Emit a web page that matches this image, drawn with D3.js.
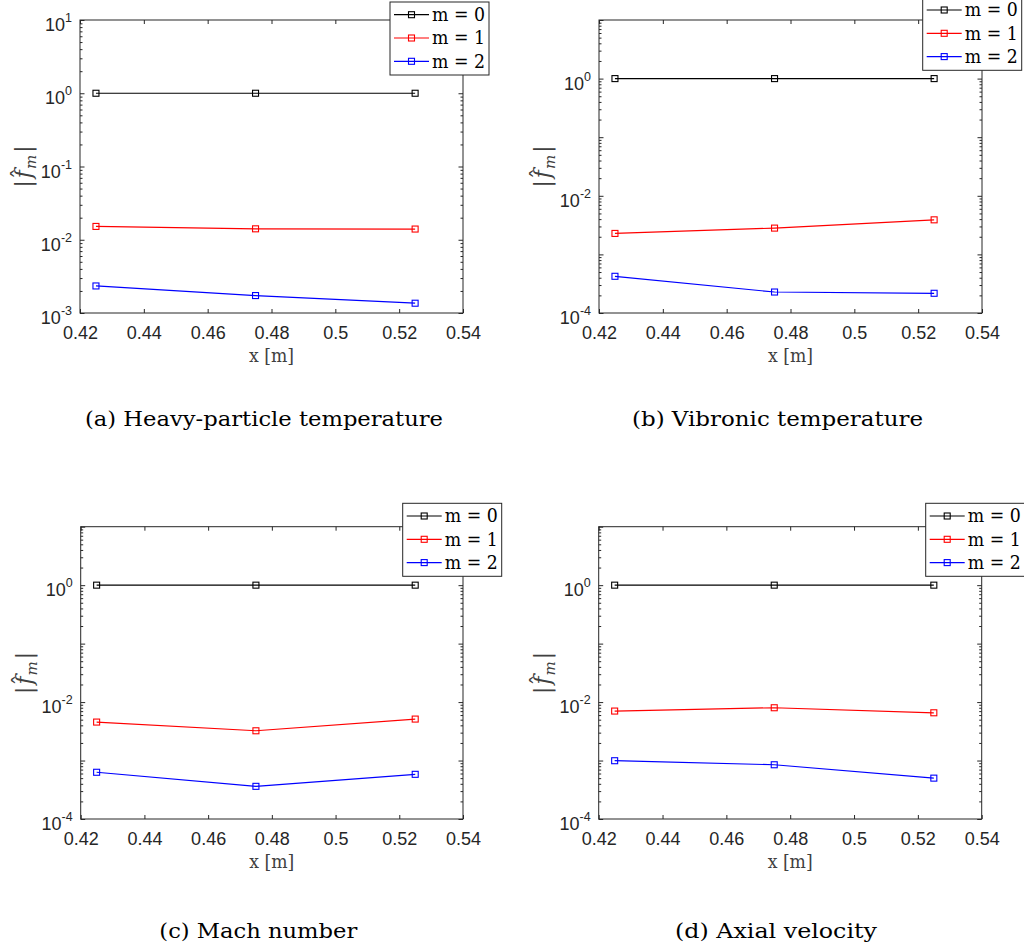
<!DOCTYPE html>
<html>
<head>
<meta charset="utf-8">
<script src="https://cdn.jsdelivr.net/npm/d3@7"></script>
<style>
  body { margin: 0; background: #fff; }
  svg { display: block; }
</style>
</head>
<body>
<svg id="chart" width="1024" height="952"></svg>
<script>
// sample positions along the axis [m]
const xValues = [0.425, 0.475, 0.525];
const xTicks = [0.42, 0.44, 0.46, 0.48, 0.5, 0.52, 0.54];

const seriesNames = ['m = 0', 'm = 1', 'm = 2'];
const seriesColors = ['#000000', '#ff0000', '#0000ff'];

// |f_m| per mode (m = 0, 1, 2)
const heavyParticle = [
  [1, 1, 1],
  [0.0152, 0.0141, 0.0140],
  [0.00234, 0.00173, 0.00136],
];
const vibronic = [
  [1, 1, 1],
  [0.00228, 0.00281, 0.00389],
  [0.000423, 0.000228, 0.000217],
];
const machNumber = [
  [1, 1, 1],
  [0.00455, 0.00323, 0.00512],
  [0.00063, 0.000362, 0.000581],
];
const axialVelocity = [
  [1, 1, 1],
  [0.00702, 0.0080, 0.00656],
  [0.000993, 0.000847, 0.0005],
];

const yExponentsA = [1, 0, -1, -2, -3];
const yExponentsB = [0, -2, -4];

const captions = [
  '(a) Heavy-particle temperature',
  '(b) Vibronic temperature',
  '(c) Mach number',
  '(d) Axial velocity',
];

const panels = [
  { data: heavyParticle, yDomain: [1e-3, 1e1], yExp: yExponentsA, caption: captions[0],
    box: { left: 80, right: 463, top: 20, bottom: 313 }, legend: { x: 390, y: 2 },
    cap: { x: 85, y: 426, w: 358 } },
  { data: vibronic, yDomain: [1e-4, 1e1], yExp: yExponentsB, caption: captions[1],
    box: { left: 599, right: 982, top: 20, bottom: 313 }, legend: { x: 922.7, y: -2.7 },
    cap: { x: 632, y: 426, w: 291 } },
  { data: machNumber, yDomain: [1e-4, 1e1], yExp: yExponentsB, caption: captions[2],
    box: { left: 80.7, right: 463, top: 526.7, bottom: 819 }, legend: { x: 402.7, y: 503.3 },
    cap: { x: 159.3, y: 938, w: 198 } },
  { data: axialVelocity, yDomain: [1e-4, 1e1], yExp: yExponentsB, caption: captions[3],
    box: { left: 598.7, right: 981.7, top: 526.7, bottom: 819 }, legend: { x: 925.7, y: 503.3 },
    cap: { x: 675, y: 938, w: 202 } },
];

const axisColor = '#262626';
const sansFont = "'Liberation Sans', Arial, Helvetica, sans-serif";
const serifFont = "'DejaVu Serif', 'Liberation Serif', serif";

const svg = d3.select('#chart');
svg.append('rect').attr('width', 1024).attr('height', 952).attr('fill', '#fff');

function minorTicks(domain) {
  const out = [];
  const lo = Math.round(Math.log10(domain[0]));
  const hi = Math.round(Math.log10(domain[1]));
  for (let e = lo; e < hi; e++) {
    for (let k = 2; k <= 9; k++) out.push(k * Math.pow(10, e));
  }
  return out;
}

function majorTicks(domain) {
  const out = [];
  const lo = Math.round(Math.log10(domain[0]));
  const hi = Math.round(Math.log10(domain[1]));
  for (let e = lo; e <= hi; e++) out.push(Math.pow(10, e));
  return out;
}

function drawPanel(p) {
  const w = p.box.right - p.box.left;
  const h = p.box.bottom - p.box.top;

  const x = d3.scaleLinear().domain([0.42, 0.54]).range([0, w]);
  const y = d3.scaleLog().domain(p.yDomain).range([h, 0]);

  const g = svg.append('g').attr('transform', `translate(${p.box.left},${p.box.top})`);

  g.append('rect')
    .attr('width', w)
    .attr('height', h)
    .attr('fill', '#fff');

  // x ticks bottom and top (inward)
  const xb = g.append('g')
    .attr('transform', `translate(0,${h})`)
    .call(d3.axisBottom(x).tickValues(xTicks).tickSizeInner(-4).tickSizeOuter(0)
      .tickPadding(12.8).tickFormat(d3.format('')));
  xb.select('.domain').remove();
  xb.selectAll('line').attr('stroke', axisColor);
  xb.selectAll('text')
    .attr('fill', axisColor)
    .attr('font-family', sansFont)
    .attr('font-size', 18);

  const xt = g.append('g')
    .call(d3.axisTop(x).tickValues(xTicks).tickSizeInner(-4).tickSizeOuter(0).tickFormat(''));
  xt.select('.domain').remove();
  xt.selectAll('line').attr('stroke', axisColor);

  // y ticks left and right, majors and minors
  [[d3.axisLeft, 0], [d3.axisRight, w]].forEach(([axisFn, off]) => {
    const maj = g.append('g')
      .attr('transform', `translate(${off},0)`)
      .call(axisFn(y).tickValues(majorTicks(p.yDomain)).tickSizeInner(-4.5).tickSizeOuter(0).tickFormat(''));
    maj.select('.domain').remove();
    maj.selectAll('line').attr('stroke', axisColor);
    const mn = g.append('g')
      .attr('transform', `translate(${off},0)`)
      .call(axisFn(y).tickValues(minorTicks(p.yDomain)).tickSizeInner(-2.5).tickSizeOuter(0).tickFormat(''));
    mn.select('.domain').remove();
    mn.selectAll('line').attr('stroke', axisColor);
  });

  // y labels 10^e
  const yl = g.append('g').selectAll('text')
    .data(p.yExp)
    .enter()
    .append('text')
    .attr('x', -8)
    .attr('y', (e) => y(Math.pow(10, e)) + 11)
    .attr('text-anchor', 'end')
    .attr('fill', axisColor)
    .attr('font-family', sansFont)
    .attr('font-size', 18);
  yl.append('tspan').text('10');
  yl.append('tspan')
    .attr('dy', -9)
    .attr('font-size', 12.5)
    .text((e) => String(e));

  // box
  g.append('rect')
    .attr('width', w)
    .attr('height', h)
    .attr('fill', 'none')
    .attr('stroke', axisColor)
    .attr('stroke-width', 1);

  // series
  const line = d3.line()
    .x((d, i) => x(xValues[i]))
    .y((d) => y(d));

  p.data.forEach((vals, s) => {
    g.append('path')
      .datum(vals)
      .attr('d', line)
      .attr('fill', 'none')
      .attr('stroke', seriesColors[s])
      .attr('stroke-width', 1.2);
    g.append('g').selectAll('rect')
      .data(vals)
      .enter()
      .append('rect')
      .attr('x', (d, i) => x(xValues[i]) - 3)
      .attr('y', (d) => y(d) - 3)
      .attr('width', 6)
      .attr('height', 6)
      .attr('fill', 'none')
      .attr('stroke', seriesColors[s])
      .attr('stroke-width', 1.1);
  });

  // axis labels
  svg.append('text')
    .attr('x', p.box.left + w / 2)
    .attr('y', p.box.bottom + 49)
    .attr('text-anchor', 'middle')
    .attr('fill', '#404040')
    .attr('font-family', serifFont)
    .attr('font-size', 19)
    .attr('textLength', 45)
    .attr('lengthAdjust', 'spacingAndGlyphs')
    .text('x [m]');

  const ylab = svg.append('text')
    .attr('transform', `translate(${p.box.left - 49},${p.box.top + h / 2}) rotate(-90)`)
    .attr('text-anchor', 'middle')
    .attr('fill', '#404040')
    .attr('font-family', serifFont)
    .attr('font-size', 22);
  ylab.append('tspan').text('|');
  ylab.append('tspan').attr('dx', 2).attr('font-style', 'italic').text('f');
  ylab.append('tspan').attr('dx', -9).attr('dy', -3).text('\u02C6');
  ylab.append('tspan').attr('dx', -1).attr('dy', 8).attr('font-style', 'italic').attr('font-size', 15).text('m');
  ylab.append('tspan').attr('dx', 2).attr('dy', -5).text('|');

  // legend
  const lg = svg.append('g').attr('transform', `translate(${p.legend.x},${p.legend.y})`);
  lg.append('rect')
    .attr('width', 99)
    .attr('height', 73)
    .attr('fill', '#fff')
    .attr('stroke', axisColor)
    .attr('stroke-width', 1);
  const rowY = d3.scalePoint().domain(seriesNames).range([12.7, 59.3]);
  seriesNames.forEach((name, s) => {
    const ry = rowY(name);
    lg.append('line')
      .attr('x1', 4).attr('x2', 39)
      .attr('y1', ry).attr('y2', ry)
      .attr('stroke', seriesColors[s])
      .attr('stroke-width', 1.2);
    lg.append('rect')
      .attr('x', 21.5 - 3).attr('y', ry - 3)
      .attr('width', 6).attr('height', 6)
      .attr('fill', 'none')
      .attr('stroke', seriesColors[s])
      .attr('stroke-width', 1.1);
    lg.append('text')
      .attr('x', 42)
      .attr('y', ry + 6.3)
      .attr('font-family', serifFont)
      .attr('font-size', 18)
      .attr('fill', '#000')
      .attr('textLength', 53)
      .attr('lengthAdjust', 'spacingAndGlyphs')
      .text(name);
  });

  // caption
  svg.append('text')
    .attr('x', p.cap.x)
    .attr('y', p.cap.y)
    .attr('font-family', serifFont)
    .attr('font-size', 20)
    .attr('fill', '#000')
    .attr('textLength', p.cap.w)
    .attr('lengthAdjust', 'spacingAndGlyphs')
    .text(p.caption);
}

panels.forEach(drawPanel);
</script>
</body>
</html>
